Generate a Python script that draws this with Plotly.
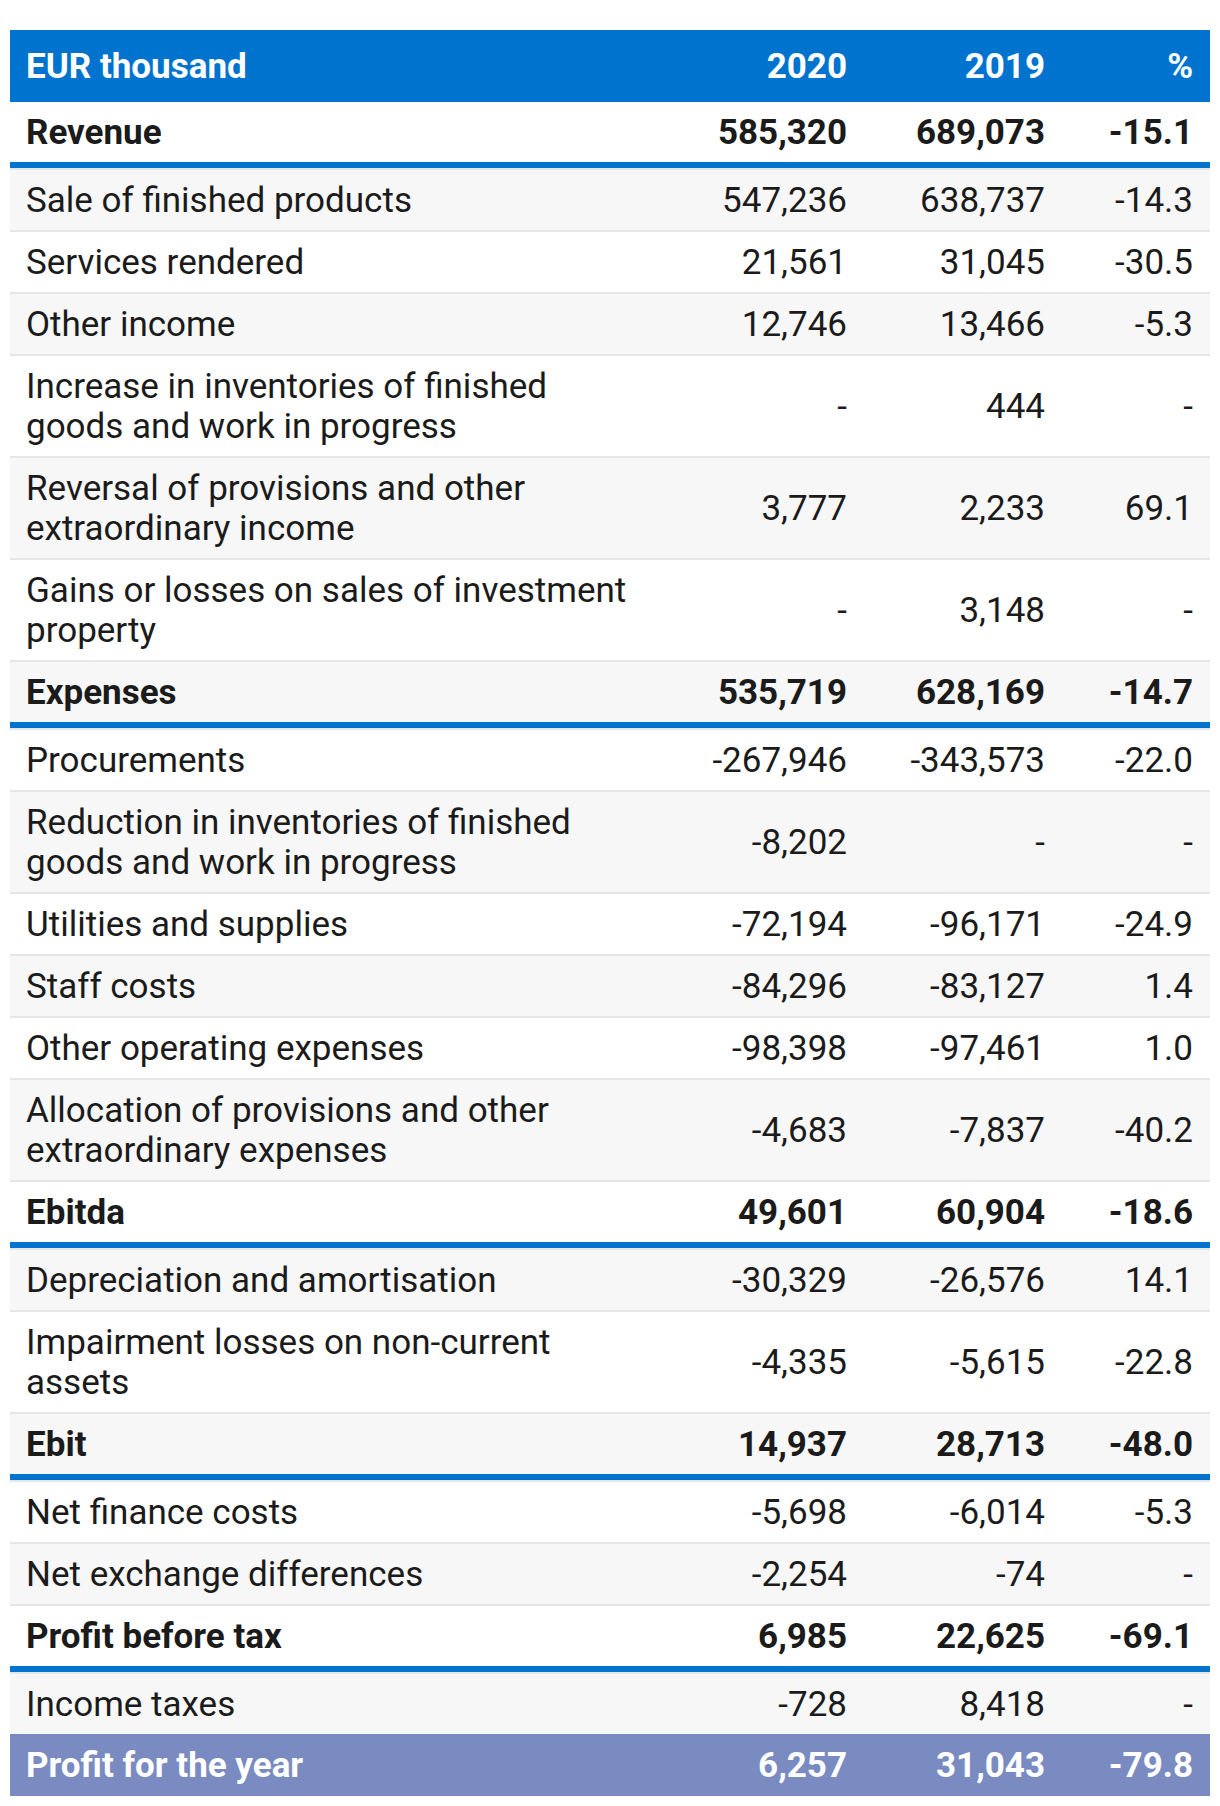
import plotly.graph_objects as go

# ---------------- data ----------------
header_labels = ["EUR thousand", "2020", "2019", "%"]
labels = [
    "Revenue", "Sale of finished products", "Services rendered", "Other income",
    "Increase in inventories of finished<br>goods and work in progress",
    "Reversal of provisions and other<br>extraordinary income",
    "Gains or losses on sales of investment<br>property",
    "Expenses", "Procurements",
    "Reduction in inventories of finished<br>goods and work in progress",
    "Utilities and supplies", "Staff costs", "Other operating expenses",
    "Allocation of provisions and other<br>extraordinary expenses",
    "Ebitda", "Depreciation and amortisation",
    "Impairment losses on non-current<br>assets",
    "Ebit", "Net finance costs", "Net exchange differences",
    "Profit before tax", "Income taxes", "Profit for the year",
]
values_2020 = ["585,320", "547,236", "21,561", "12,746", "-", "3,777", "-",
               "535,719", "-267,946", "-8,202", "-72,194", "-84,296", "-98,398",
               "-4,683", "49,601", "-30,329", "-4,335", "14,937", "-5,698",
               "-2,254", "6,985", "-728", "6,257"]
values_2019 = ["689,073", "638,737", "31,045", "13,466", "444", "2,233", "3,148",
               "628,169", "-343,573", "-", "-96,171", "-83,127", "-97,461",
               "-7,837", "60,904", "-26,576", "-5,615", "28,713", "-6,014",
               "-74", "22,625", "8,418", "31,043"]
values_pct = ["-15.1", "-14.3", "-30.5", "-5.3", "-", "69.1", "-",
              "-14.7", "-22.0", "-", "-24.9", "1.4", "1.0",
              "-40.2", "-18.6", "14.1", "-22.8", "-48.0", "-5.3",
              "-", "-69.1", "-", "-79.8"]
subtotal_rows = ["Revenue", "Expenses", "Ebitda", "Ebit", "Profit before tax"]
total_row = "Profit for the year"

# ---------------- style ----------------
W, H = 1220, 1806
PAGE_MARGIN = 8      # default body margin of the html page
X0, X1 = 10, 1210
TOP = 30
HEADER_H = 72
LINE_H = 60          # content height of a one-line row
LINE_STEP = 40       # extra height per additional text line
SEP_H = 2
BLUE_H = 6
FONT = "Roboto"
FS = 35
TEXT_DY = 3.5        # baseline nudge so text sits centred like the original
BLUE = "#0073cf"
PURPLE = "#7a8bc1"
GRAY_BG = "#f7f7f7"
SEP = "#e6e6e6"
TXT = "#1b1b1b"
LABEL_X = 26
COL_RIGHT = [847, 1045, 1193]

# ---------------- layout computation ----------------
n = len(labels)
fill_y, fill_h, fill_c = [], [], []
sep_y, sep_h = [], []
blue_y, blue_h = [], []
row_centers = []
row_lines = []

y = TOP
fill_y.append(y + HEADER_H / 2)
fill_h.append(HEADER_H)
fill_c.append(BLUE)
header_center = y + HEADER_H / 2
y += HEADER_H

for i, lab in enumerate(labels):
    lines = lab.split("<br>")
    row_lines.append(lines)
    is_total = lab == total_row
    h = LINE_H + LINE_STEP * (len(lines) - 1) + (SEP_H if is_total else 0)
    fill_y.append(y + h / 2)
    fill_h.append(h)
    if is_total:
        fill_c.append(PURPLE)
    else:
        fill_c.append("white" if i % 2 == 0 else GRAY_BG)
    row_centers.append(y + h / 2)
    y += h
    if i >= n - 2:
        continue
    if lab in subtotal_rows:
        blue_y.append(y + BLUE_H / 2)
        blue_h.append(BLUE_H)
        y += BLUE_H
    sep_y.append(y + SEP_H / 2)
    sep_h.append(SEP_H)
    y += SEP_H

fig = go.Figure()


def band(ys, hs, colors):
    fig.add_trace(go.Bar(
        orientation="h", y=ys, x=[X1 - X0] * len(ys), base=[X0] * len(ys),
        width=hs, marker=dict(color=colors, line=dict(width=0)),
        hoverinfo="skip", showlegend=False,
    ))


band(fill_y, fill_h, fill_c)
band(sep_y, sep_h, [SEP] * len(sep_y))
band(blue_y, blue_h, [BLUE] * len(blue_y))


def emph(s, lab):
    return f"<b>{s}</b>" if (lab in subtotal_rows or lab == total_row) else s


# label column (each wrapped line placed separately)
lx, ly = [LABEL_X], [header_center + TEXT_DY]
lt, lc = [f"<b>{header_labels[0]}</b>"], ["white"]
for lab, lines, cy in zip(labels, row_lines, row_centers):
    k = len(lines)
    for j, line in enumerate(lines):
        lx.append(LABEL_X)
        ly.append(cy + TEXT_DY + (j - (k - 1) / 2) * LINE_STEP)
        lt.append(emph(line, lab))
        lc.append("white" if lab == total_row else TXT)
fig.add_trace(go.Scatter(
    x=lx, y=ly, text=lt, mode="text", textposition="middle right",
    textfont=dict(family=FONT, size=FS, color=lc),
    hoverinfo="skip", showlegend=False, cliponaxis=False,
))

# numeric columns
nx, ny, nt, nc = [], [], [], []
for c, (xr, col) in enumerate(zip(COL_RIGHT, [values_2020, values_2019, values_pct])):
    nx.append(xr)
    ny.append(header_center + TEXT_DY)
    nt.append(f"<b>{header_labels[c + 1]}</b>")
    nc.append("white")
    for lab, v, cy in zip(labels, col, row_centers):
        nx.append(xr)
        ny.append(cy + TEXT_DY)
        nt.append(emph(v, lab))
        nc.append("white" if lab == total_row else TXT)
fig.add_trace(go.Scatter(
    x=nx, y=ny, text=nt, mode="text", textposition="middle left",
    textfont=dict(family=FONT, size=FS, color=nc),
    hoverinfo="skip", showlegend=False, cliponaxis=False,
))

fig.update_layout(
    width=W - PAGE_MARGIN, height=H - PAGE_MARGIN,
    margin=dict(l=0, r=0, t=0, b=0),
    paper_bgcolor="white", plot_bgcolor="white",
    barmode="overlay", bargap=0,
    xaxis=dict(range=[PAGE_MARGIN, W], visible=False, fixedrange=True),
    yaxis=dict(range=[H, PAGE_MARGIN], visible=False, fixedrange=True),
)
fig.write_html("out.html")
